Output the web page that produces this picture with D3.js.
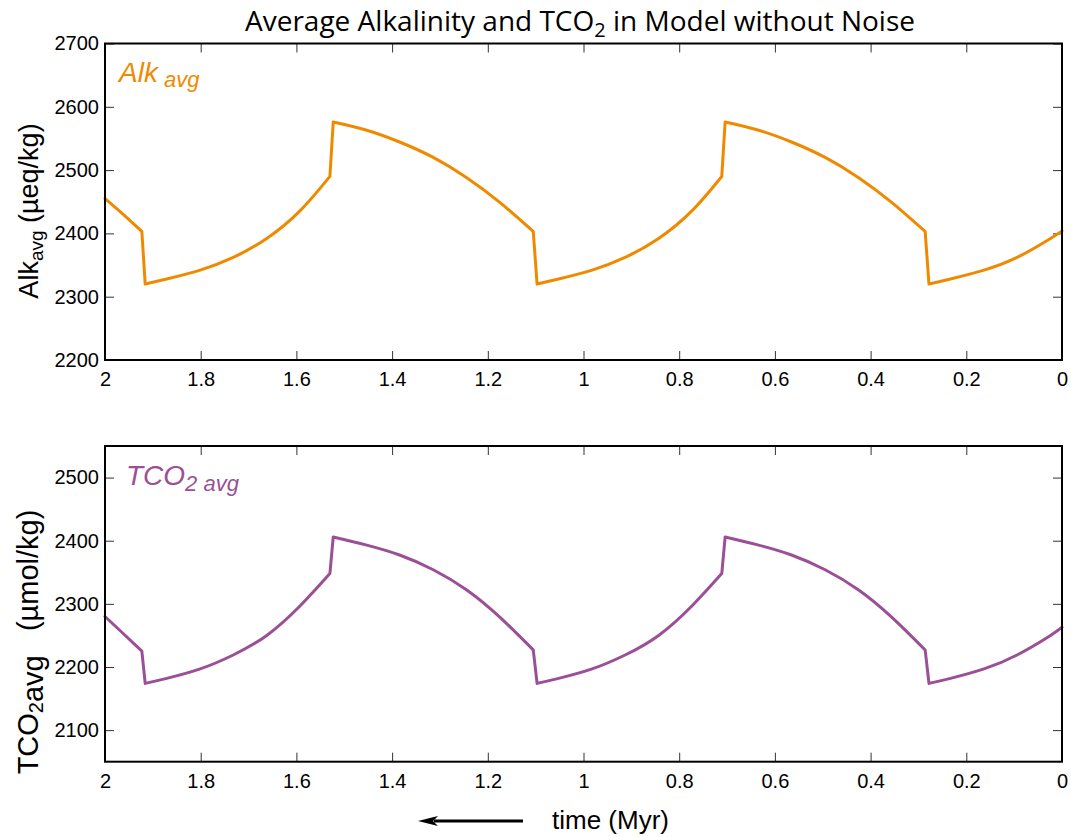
<!DOCTYPE html>
<html>
<head>
<meta charset="utf-8">
<script src="https://cdn.jsdelivr.net/npm/d3@7"></script>
<style>
  body { margin: 0; background: #fff; }
  svg { display: block; }
  text { font-family: "Liberation Sans", Arial, sans-serif; }
</style>
</head>
<body>
<div id="chart"></div>
<script>
/**
 * DATA
 * time runs from 2 Myr (left) to 0 Myr (right)
 * */
const timeMyr = [2.0, 1.962, 1.923, 1.916, 1.871, 1.801, 1.732, 1.662, 1.592, 1.530, 1.523,
  1.453, 1.383, 1.314, 1.244, 1.175, 1.105, 1.097, 1.052, 0.982, 0.913, 0.843, 0.773,
  0.711, 0.704, 0.634, 0.564, 0.495, 0.425, 0.356, 0.286, 0.278, 0.233, 0.163, 0.094,
  0.024, 0.0];

const alkAvg = [2455, 2430, 2403, 2320, 2328, 2342, 2362, 2392, 2436, 2490, 2576,
  2563, 2544, 2520, 2488, 2449, 2403, 2320, 2328, 2342, 2362, 2392, 2436,
  2490, 2576, 2563, 2544, 2520, 2488, 2449, 2403, 2320, 2328, 2342, 2362,
  2392, 2404];

const tco2Avg = [2280, 2253, 2225, 2174, 2182, 2197, 2219, 2250, 2297, 2348, 2406,
  2393, 2377, 2354, 2322, 2279, 2227, 2174, 2182, 2197, 2219, 2250, 2297,
  2348, 2406, 2393, 2377, 2354, 2322, 2279, 2227, 2174, 2182, 2197, 2219,
  2250, 2263];

const xTicks = [2, 1.8, 1.6, 1.4, 1.2, 1, 0.8, 0.6, 0.4, 0.2, 0];
const alkTicks = [2200, 2300, 2400, 2500, 2600, 2700];
const tco2Ticks = [2100, 2200, 2300, 2400, 2500];

/**
 * CONSTANTS
 * */
const width = 1071,
  height = 837,
  left = 105,
  right = 1062;

const alkColor = "#ef8a00",
  tco2Color = "#9a4f96";

const svg = d3.select("#chart")
  .append("svg")
  .attr("width", width)
  .attr("height", height);

const x = d3.scaleLinear().domain([2, 0]).range([left, right]);

// split the series into smooth runs; the near-vertical jumps stay straight
function pieces(values) {
  const pts = timeMyr.map((t, i) => [t, values[i]]);
  const out = [];
  let run = [pts[0]];
  for (let i = 1; i < pts.length; i++) {
    if (Math.abs(pts[i][0] - pts[i - 1][0]) < 0.012) {
      out.push(run);
      out.push([pts[i - 1], pts[i]]);
      run = [pts[i]];
    } else {
      run.push(pts[i]);
    }
  }
  out.push(run);
  return out;
}

// one panel: frame, inward ticks on all four sides, the series line
function panel(top, bottom, domain, ticks, values, color) {
  const y = d3.scaleLinear().domain(domain).range([bottom, top]);
  const g = svg.append("g");

  const fmt = d => String(+d.toFixed(1));

  g.append("g")
    .attr("transform", `translate(0,${bottom})`)
    .call(d3.axisBottom(x).tickValues(xTicks).tickFormat(fmt).tickSizeInner(-9).tickSizeOuter(0).tickPadding(12));
  g.append("g")
    .attr("transform", `translate(0,${top})`)
    .call(d3.axisTop(x).tickValues(xTicks).tickFormat("").tickSizeInner(-9).tickSizeOuter(0));
  g.append("g")
    .attr("transform", `translate(${left},0)`)
    .call(d3.axisLeft(y).tickValues(ticks).tickFormat(d3.format("d")).tickSizeInner(-9).tickSizeOuter(0).tickPadding(6));
  g.append("g")
    .attr("transform", `translate(${right},0)`)
    .call(d3.axisRight(y).tickValues(ticks).tickFormat("").tickSizeInner(-9).tickSizeOuter(0));

  g.selectAll(".domain").remove();
  g.selectAll(".tick line").attr("stroke", "#333").attr("stroke-width", 1);
  g.selectAll(".tick text")
    .attr("font-size", 20)
    .attr("fill", "#000")
    .style("font-family", "'Liberation Sans', Arial, sans-serif");

  // data line
  const line = d3.line()
    .x(d => x(d[0]))
    .y(d => y(d[1]))
    .curve(d3.curveNatural);

  g.append("path")
    .attr("d", pieces(values).map(p => line(p)).join(""))
    .attr("fill", "none")
    .attr("stroke", color)
    .attr("stroke-width", 3)
    .attr("stroke-linejoin", "round")
    .attr("stroke-linecap", "round");

  // frame
  g.append("rect")
    .attr("x", left)
    .attr("y", top)
    .attr("width", right - left)
    .attr("height", bottom - top)
    .attr("fill", "none")
    .attr("stroke", "#000")
    .attr("stroke-width", 2);

  return y;
}

panel(43.5, 360, [2200, 2700], alkTicks, alkAvg, alkColor);
panel(446, 761.7, [2050, 2550], tco2Ticks, tco2Avg, tco2Color);

// title
const title = svg.append("text")
  .attr("x", 580)
  .attr("y", 31)
  .attr("text-anchor", "middle")
  .style("font-family", "'Open Sans', sans-serif")
  .attr("font-size", 28)
  .attr("fill", "#000");
title.append("tspan").text("Average Alkalinity and TCO");
title.append("tspan").attr("dy", 6).attr("font-size", 20).text("2");
title.append("tspan").attr("dy", -6).text(" in Model without Noise");

// legend labels inside panels
const alkLab = svg.append("text")
  .attr("x", 119).attr("y", 82)
  .attr("fill", alkColor)
  .attr("font-style", "italic")
  .attr("font-size", 28);
alkLab.append("tspan").text("Alk");
alkLab.append("tspan").attr("dy", 5).attr("font-size", 22).text(" avg");

const tcoLab = svg.append("text")
  .attr("x", 126).attr("y", 485)
  .attr("fill", tco2Color)
  .attr("font-style", "italic")
  .attr("font-size", 28);
tcoLab.append("tspan").text("TCO");
tcoLab.append("tspan").attr("dy", 6).attr("font-size", 22).text("2 avg");

// y axis labels
const yLab1 = svg.append("text")
  .attr("transform", "translate(38,211) rotate(-90)")
  .attr("text-anchor", "middle")
  .attr("font-size", 27)
  .attr("fill", "#000");
yLab1.append("tspan").text("Alk");
yLab1.append("tspan").attr("dy", 5).attr("font-size", 19).text("avg");
yLab1.append("tspan").attr("dy", -5).text(" (µeq/kg)");

const yLab2 = svg.append("text")
  .attr("transform", "translate(38,642) rotate(-90)")
  .attr("text-anchor", "middle")
  .attr("font-size", 29)
  .attr("fill", "#000")
  .style("white-space", "pre");
yLab2.append("tspan").text("TCO");
yLab2.append("tspan").attr("dy", 5).attr("font-size", 20).text("2");
yLab2.append("tspan").text("avg");
yLab2.append("tspan").attr("dy", -5).text("   (µmol/kg)");

// x axis label with arrow pointing back in time
svg.append("defs").append("marker")
  .attr("id", "head")
  .attr("viewBox", "0 0 20 10")
  .attr("refX", 4).attr("refY", 5)
  .attr("markerUnits", "userSpaceOnUse")
  .attr("markerWidth", 20).attr("markerHeight", 10)
  .attr("orient", "auto")
  .append("path")
  .attr("d", "M0,0 L20,5 L0,10 L5,5 z")
  .attr("fill", "#000");

svg.append("line")
  .attr("x1", 523).attr("y1", 821)
  .attr("x2", 434).attr("y2", 821)
  .attr("stroke", "#000")
  .attr("stroke-width", 3)
  .attr("marker-end", "url(#head)");

svg.append("text")
  .attr("x", 552).attr("y", 829)
  .attr("font-size", 26)
  .attr("fill", "#000")
  .text("time (Myr)");
</script>
</body>
</html>
